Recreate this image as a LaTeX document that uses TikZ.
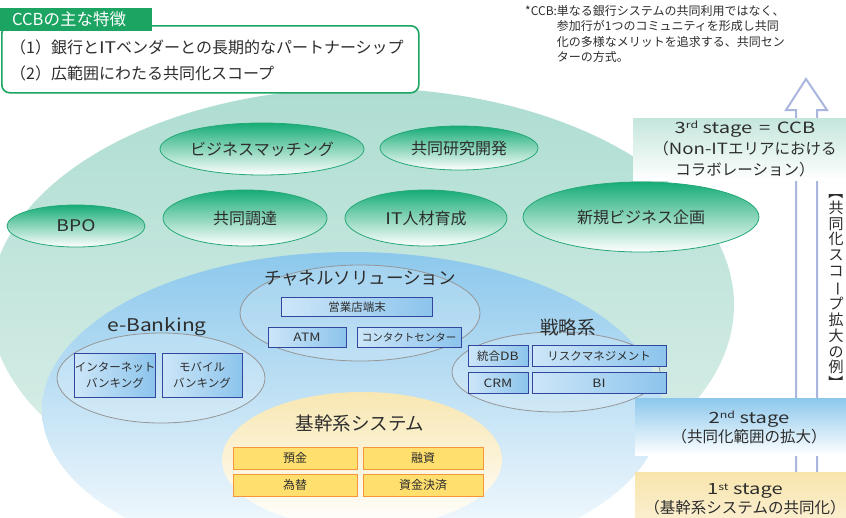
\documentclass[tikz,border=0pt]{standalone}
\usepackage{graphicx}
\usepackage{fontspec}
\setmainfont{Noto Sans CJK JP}
\usetikzlibrary{shapes.geometric}

\newcommand{\lat}[1]{\scalebox{1.2}[1]{#1}}
\newcommand{\latw}[1]{\scalebox{1.3}[1]{#1}}
\newcommand{\supx}[1]{\raisebox{0.55ex}{\fontsize{9.5}{9.5}\selectfont #1}}

\definecolor{txt}{RGB}{45,45,45}
\definecolor{ccbgreen}{RGB}{27,164,98}
\definecolor{tealtop}{RGB}{174,221,210}
\definecolor{tealbot}{RGB}{224,241,235}
\definecolor{gtop}{RGB}{22,172,118}
\definecolor{gborder}{RGB}{36,168,118}
\definecolor{bluetop}{RGB}{140,200,236}
\definecolor{blueborder}{RGB}{50,70,160}
\definecolor{boxblue}{RGB}{140,196,236}
\definecolor{boxlight}{RGB}{205,230,248}
\definecolor{orborder}{RGB}{245,150,60}
\definecolor{oryellow}{RGB}{255,224,110}
\definecolor{orlight}{RGB}{255,252,228}
\definecolor{ytop}{RGB}{248,231,178}
\definecolor{arrowc}{RGB}{170,182,222}
\definecolor{grayline}{RGB}{150,150,150}
\definecolor{s3top}{RGB}{196,230,220}
\definecolor{s1top}{RGB}{248,229,172}
\definecolor{s1bot}{RGB}{251,240,212}

\tikzset{
  gell/.style={ellipse, draw=gborder, line width=0.8pt, top color=gtop, bottom color=white,
    inner sep=0, font=\fontsize{16}{16}\selectfont, text=txt},
  grayell/.style={ellipse, draw=grayline, line width=0.8pt, fill=white, fill opacity=0.18,
    text opacity=1, inner sep=0},
  bbox/.style={draw=blueborder, line width=1pt, left color=boxlight, middle color=white,
    right color=boxblue, inner sep=0, align=center,
    font=\fontsize{11.5}{14}\selectfont, text=txt},
  obox/.style={draw=orborder, line width=1pt, top color=oryellow, middle color=orlight,
    bottom color=oryellow, inner sep=0, minimum height=22pt,
    font=\fontsize{12}{12}\selectfont, text=txt},
  grouplabel/.style={inner sep=0, text=txt},
  stagebox/.style={draw=none, inner sep=0, anchor=north west},
  stagetext/.style={inner sep=0, align=center, text=txt},
}

\begin{document}
\begin{tikzpicture}[x=1pt,y=-1pt]
\clip (0,0) rectangle (846,517);
\fill[white] (0,0) rectangle (846,517);

% big teal ellipse
\node[ellipse, draw=none, top color=tealtop, bottom color=tealbot, minimum width=744pt,
  minimum height=434pt, inner sep=0] (big) at (362,305) {};

% green ellipses
\node[gell, minimum width=204pt, minimum height=52pt] (bm) at (262,149) {ビジネスマッチング};
\node[gell, minimum width=158pt, minimum height=44pt] (kk) at (459,148) {共同研究開発};
\node[gell, minimum width=138pt, minimum height=42pt] (bpo) at (76,226) {\lat{BPO}};
\node[gell, minimum width=164pt, minimum height=56pt] (cd) at (245,218) {共同調達};
\node[gell, minimum width=162pt, minimum height=56pt] (it) at (426,218) {\lat{IT}人材育成};
\node[gell, minimum width=236pt, minimum height=70pt] (sb) at (641,217) {新規ビジネス企画};

% blue ellipse
\node[ellipse, draw=none, top color=bluetop, bottom color=white, minimum width=620pt,
  minimum height=316pt, inner sep=0] (blue) at (352,410) {};

% yellow ellipse
\node[ellipse, draw=none, top color=ytop, bottom color=white, minimum width=280pt,
  minimum height=136pt, inner sep=0] (core) at (362,460) {};

% gray group ellipses
\node[grayell, minimum width=240pt, minimum height=96pt] (chan) at (360,313) {};
\node[grayell, minimum width=208pt, minimum height=90pt] (eb) at (161,378) {};
\node[grayell, minimum width=208pt, minimum height=80pt] (st) at (556,372) {};

% group labels
\node[grouplabel, font=\fontsize{17.5}{17.5}\selectfont] (chanl) at (360,278) {チャネルソリューション};
\node[grouplabel, font=\fontsize{17.5}{17.5}\selectfont] (ebl) at (157,327) {\lat{e-Banking}};
\node[grouplabel, font=\fontsize{18.5}{18.5}\selectfont] (stl) at (568,327) {戦略系};
\node[grouplabel, font=\fontsize{18.5}{18.5}\selectfont] (corel) at (360,423) {基幹系システム};

% blue boxes
\node[bbox, minimum width=151pt, minimum height=19pt] (eigyo) at (357,307) {営業店端末};
\node[bbox, minimum width=78pt, minimum height=20pt] (atm) at (307,337) {\lat{ATM}};
\node[bbox, minimum width=104pt, minimum height=20pt, font=\fontsize{10.5}{12}\selectfont] (cc) at (409,337) {コンタクトセンター};
\node[bbox, minimum width=80pt, minimum height=44pt, font=\fontsize{11.5}{16}\selectfont] (ib) at (115,375) {インターネット\\バンキング};
\node[bbox, minimum width=80pt, minimum height=44pt, font=\fontsize{11.5}{16}\selectfont] (mb) at (202,375) {モバイル\\バンキング};
\node[bbox, minimum width=60pt, minimum height=21pt] (db) at (498,356) {統合\lat{DB}};
\node[bbox, minimum width=134pt, minimum height=21pt] (risk) at (599,356) {リスクマネジメント};
\node[bbox, minimum width=60pt, minimum height=21pt] (crm) at (498,383) {\lat{CRM}};
\node[bbox, minimum width=134pt, minimum height=21pt] (bi) at (599,383) {\lat{BI}};

% orange boxes
\node[obox, minimum width=124pt] (yokin) at (295,458) {預金};
\node[obox, minimum width=120pt] (yushi) at (423,458) {融資};
\node[obox, minimum width=124pt] (kawase) at (295,485) {為替};
\node[obox, minimum width=120pt] (kessai) at (423,485) {資金決済};

% hollow arrow
\draw[arrowc, line width=2pt, fill=white, line join=miter]
  (796,540) -- (796,110) -- (786,110) -- (806,79) -- (827,110) -- (817,110) -- (817,540) -- cycle;

% stage boxes
\node[stagebox, top color=s3top, bottom color=white, minimum width=220pt, minimum height=62pt] (s3) at (633,118) {};
\node[stagebox, top color=bluetop, bottom color=white, minimum width=220pt, minimum height=57pt] (s2) at (635,398) {};
\node[stagebox, top color=s1top, bottom color=s1bot, minimum width=220pt, minimum height=54pt] (s1) at (635,472) {};

\node[stagetext, font=\fontsize{15.5}{21}\selectfont] (s3t) at (745,149)
  {\latw{3\supx{rd} stage\,\,=\,\,CCB}\\（\lat{Non-IT}エリアにおける\\コラボレーション）};
\node[stagetext, font=\fontsize{15.5}{19}\selectfont] (s2t) at (749,427.5)
  {\latw{2\supx{nd} stage}\\（共同化範囲の拡大）};
\node[stagetext, font=\fontsize{15.5}{18.5}\selectfont] (s1t) at (745,499)
  {\latw{1\supx{st} stage}\\（基幹系システムの共同化）};

% vertical text
\node[inner sep=0, align=center, text=txt, font=\fontsize{15}{15.75}\selectfont] (vt) at (836,287.5)
  {\rotatebox[origin=c]{-90}{【}\\共\\同\\化\\ス\\コ\\\rotatebox[origin=c]{-90}{ー}\\プ\\拡\\大\\の\\例\\\rotatebox[origin=c]{-90}{】}};

% title box
\node[draw=ccbgreen, line width=1.6pt, fill=white, rounded corners=8pt, anchor=north west,
  minimum width=417pt, minimum height=67pt, inner sep=0] (tbox) at (1,25) {};
\node[fill=ccbgreen, anchor=north west, minimum width=152pt, minimum height=23pt, inner sep=0] (tab) at (0,8) {};
\node[anchor=west, inner sep=0, text=white, font=\fontsize{16.5}{16.5}\selectfont] (tabt) at (12,19.5) {CCBの主な特徴};
\node[anchor=west, inner sep=0, text=txt, font=\fontsize{16}{16}\selectfont] (f1) at (10,47) {（1）銀行と\lat{IT}ベンダーとの長期的なパートナーシップ};
\node[anchor=west, inner sep=0, text=txt, font=\fontsize{16}{16}\selectfont] (f2) at (10,73) {（2）広範囲にわたる共同化スコープ};

% footnote
\node[anchor=north west, inner sep=0, text=txt, font=\fontsize{12}{15.5}\selectfont] (note) at (525,4)
  {\begin{tabular}{@{}l@{}l@{}}*CCB:&単なる銀行システムの共同利用ではなく、\\
  &参加行が1つのコミュニティを形成し共同\\
  &化の多様なメリットを追求する、共同セン\\
  &ターの方式。\end{tabular}};
\end{tikzpicture}
\end{document}
